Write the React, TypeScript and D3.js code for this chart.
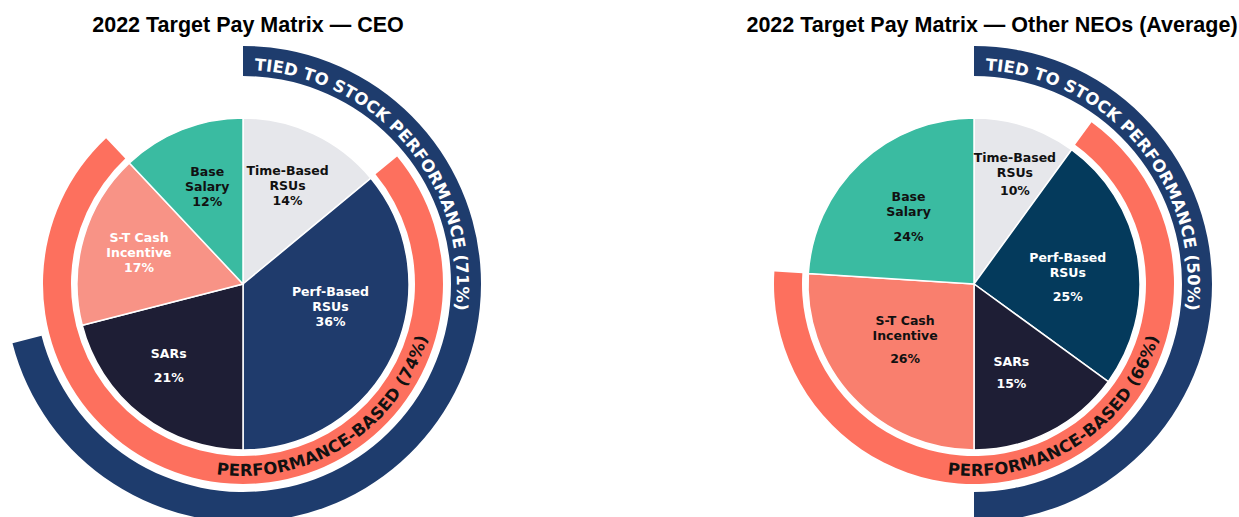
import React from "react";
import * as d3 from "d3";

// slices, clockwise from 12 o'clock
const categories = ["Time-Based|RSUs", "Perf-Based|RSUs", "SARs", "S-T Cash|Incentive", "Base|Salary"];
const ceoValues = [14, 36, 21, 17, 12];
const neoValues = [10, 25, 15, 26, 24];
// which slices feed each outer ring
const tiedToStock = [true, true, true, false, false];
const performanceBased = [false, true, true, true, false];

const W = 1239;
const H = 517;
const R_PIE = 166;
const CORAL = "#FD705E";
const NAVY = "#1E3C6D";
const FONT = "'DejaVu Sans', sans-serif";

const charts = [
  {
    title: "2022 Target Pay Matrix \u2014 CEO",
    titleX: 248,
    values: ceoValues,
    cx: 243,
    cy: 284,
    fills: ["#E6E7EB", "#1F3B6C", "#1E1E35", "#F89386", "#3ABBA1"],
    ink: ["#111", "#fff", "#fff", "#fff", "#111"],
    nudge: [[2, -8], [-3, -20], [-13, 2], [-8, -4], [1, -5]],
    pctGap: [15, 15, 24, 15, 15],
  },
  {
    title: "2022 Target Pay Matrix \u2014 Other NEOs (Average)",
    titleX: 992,
    values: neoValues,
    cx: 974,
    cy: 284,
    fills: ["#E6E7EB", "#043A5C", "#1E1E35", "#F97F6E", "#3ABBA1"],
    ink: ["#111", "#fff", "#fff", "#111", "#111"],
    nudge: [[10, -15], [-5, 9], [-8, -1], [4, -13], [3, 5]],
    pctGap: [18, 24, 22, 23, 25],
  },
];

const rad = (deg: number) => (deg * Math.PI) / 180;

function Donut({ c, idx }: { c: any; idx: number }) {
  const arcs = d3.pie<number>().sort(null).value((d) => d)(c.values);
  const slice = d3.arc<any>().innerRadius(0).outerRadius(R_PIE);
  const labelArc = d3.arc<any>().innerRadius(100).outerRadius(100);

  const span = (flags: boolean[]) => {
    const picked = arcs.filter((_, i) => flags[i]);
    return {
      start: d3.min(picked, (a) => a.startAngle) as number,
      end: d3.max(picked, (a) => a.endAngle) as number,
      pct: d3.sum(c.values.filter((_: number, i: number) => flags[i])),
    };
  };
  const tied = span(tiedToStock);
  const perf = span(performanceBased);

  const navyRing = d3.arc<any>().innerRadius(208).outerRadius(238)({ startAngle: tied.start, endAngle: tied.end });
  const coralRing = d3.arc<any>().innerRadius(172).outerRadius(200)({ startAngle: perf.start, endAngle: perf.end });

  // text paths: navy runs clockwise over the top, coral runs anticlockwise along the bottom
  const navyPath = d3.path();
  navyPath.arc(0, 0, 214, rad(3 - 90), rad(250 - 90), false);
  const coralPath = d3.path();
  coralPath.arc(0, 0, 192, rad(188 - 90), rad(40 - 90), true);

  return (
    <g>
      <text x={c.titleX} y={32} textAnchor="middle" fontFamily="'Liberation Sans', Arial, sans-serif" fontWeight={700} fontSize={21.5} fill="#000">
        {c.title}
      </text>
      <g transform={`translate(${c.cx},${c.cy})`}>
        <defs>
          <path id={`navy-${idx}`} d={navyPath.toString()} fill="none" />
          <path id={`coral-${idx}`} d={coralPath.toString()} fill="none" />
        </defs>
        <path d={navyRing as string} fill={NAVY} />
        <path d={coralRing as string} fill={CORAL} />
        {arcs.map((a, i) => (
          <path key={i} d={slice(a) as string} fill={c.fills[i]} stroke="#fff" strokeWidth={1.5} />
        ))}
        {arcs.map((a, i) => {
          const [x, y] = labelArc.centroid(a);
          const lines = categories[i].split("|").concat(`${c.values[i]}%`);
          const ys = lines.map((_, k) => (k < lines.length - 1 ? k * 15 : (k - 1) * 15 + c.pctGap[i]));
          const off = -ys[ys.length - 1] / 2;
          const bx = x + c.nudge[i][0];
          const by = y + c.nudge[i][1] + off;
          return (
            <g key={i}>
              {lines.map((l, k) => (
                <text
                  key={k}
                  x={bx}
                  y={by + ys[k] + 4.5}
                  textAnchor="middle"
                  fontFamily={FONT}
                  fontWeight={700}
                  fontSize={12.5}
                  fill={c.ink[i]}
                >
                  {l}
                </text>
              ))}
            </g>
          );
        })}
        <text fontFamily={FONT} fontWeight={700} fontSize={16.5} letterSpacing={0.1} fill="#fff">
          <textPath href={`#navy-${idx}`}>{`TIED TO STOCK PERFORMANCE (${tied.pct}%)`}</textPath>
        </text>
        <text fontFamily={FONT} fontWeight={700} fontSize={16.5} letterSpacing={0.2} fill="#111">
          <textPath href={`#coral-${idx}`}>{`PERFORMANCE-BASED (${perf.pct}%)`}</textPath>
        </text>
      </g>
    </g>
  );
}

export default function App() {
  return (
    <svg width={W} height={H} style={{ position: "absolute", left: 0, top: 0, background: "#fff" }}>
      {charts.map((c, i) => (
        <Donut key={i} c={c} idx={i} />
      ))}
    </svg>
  );
}
